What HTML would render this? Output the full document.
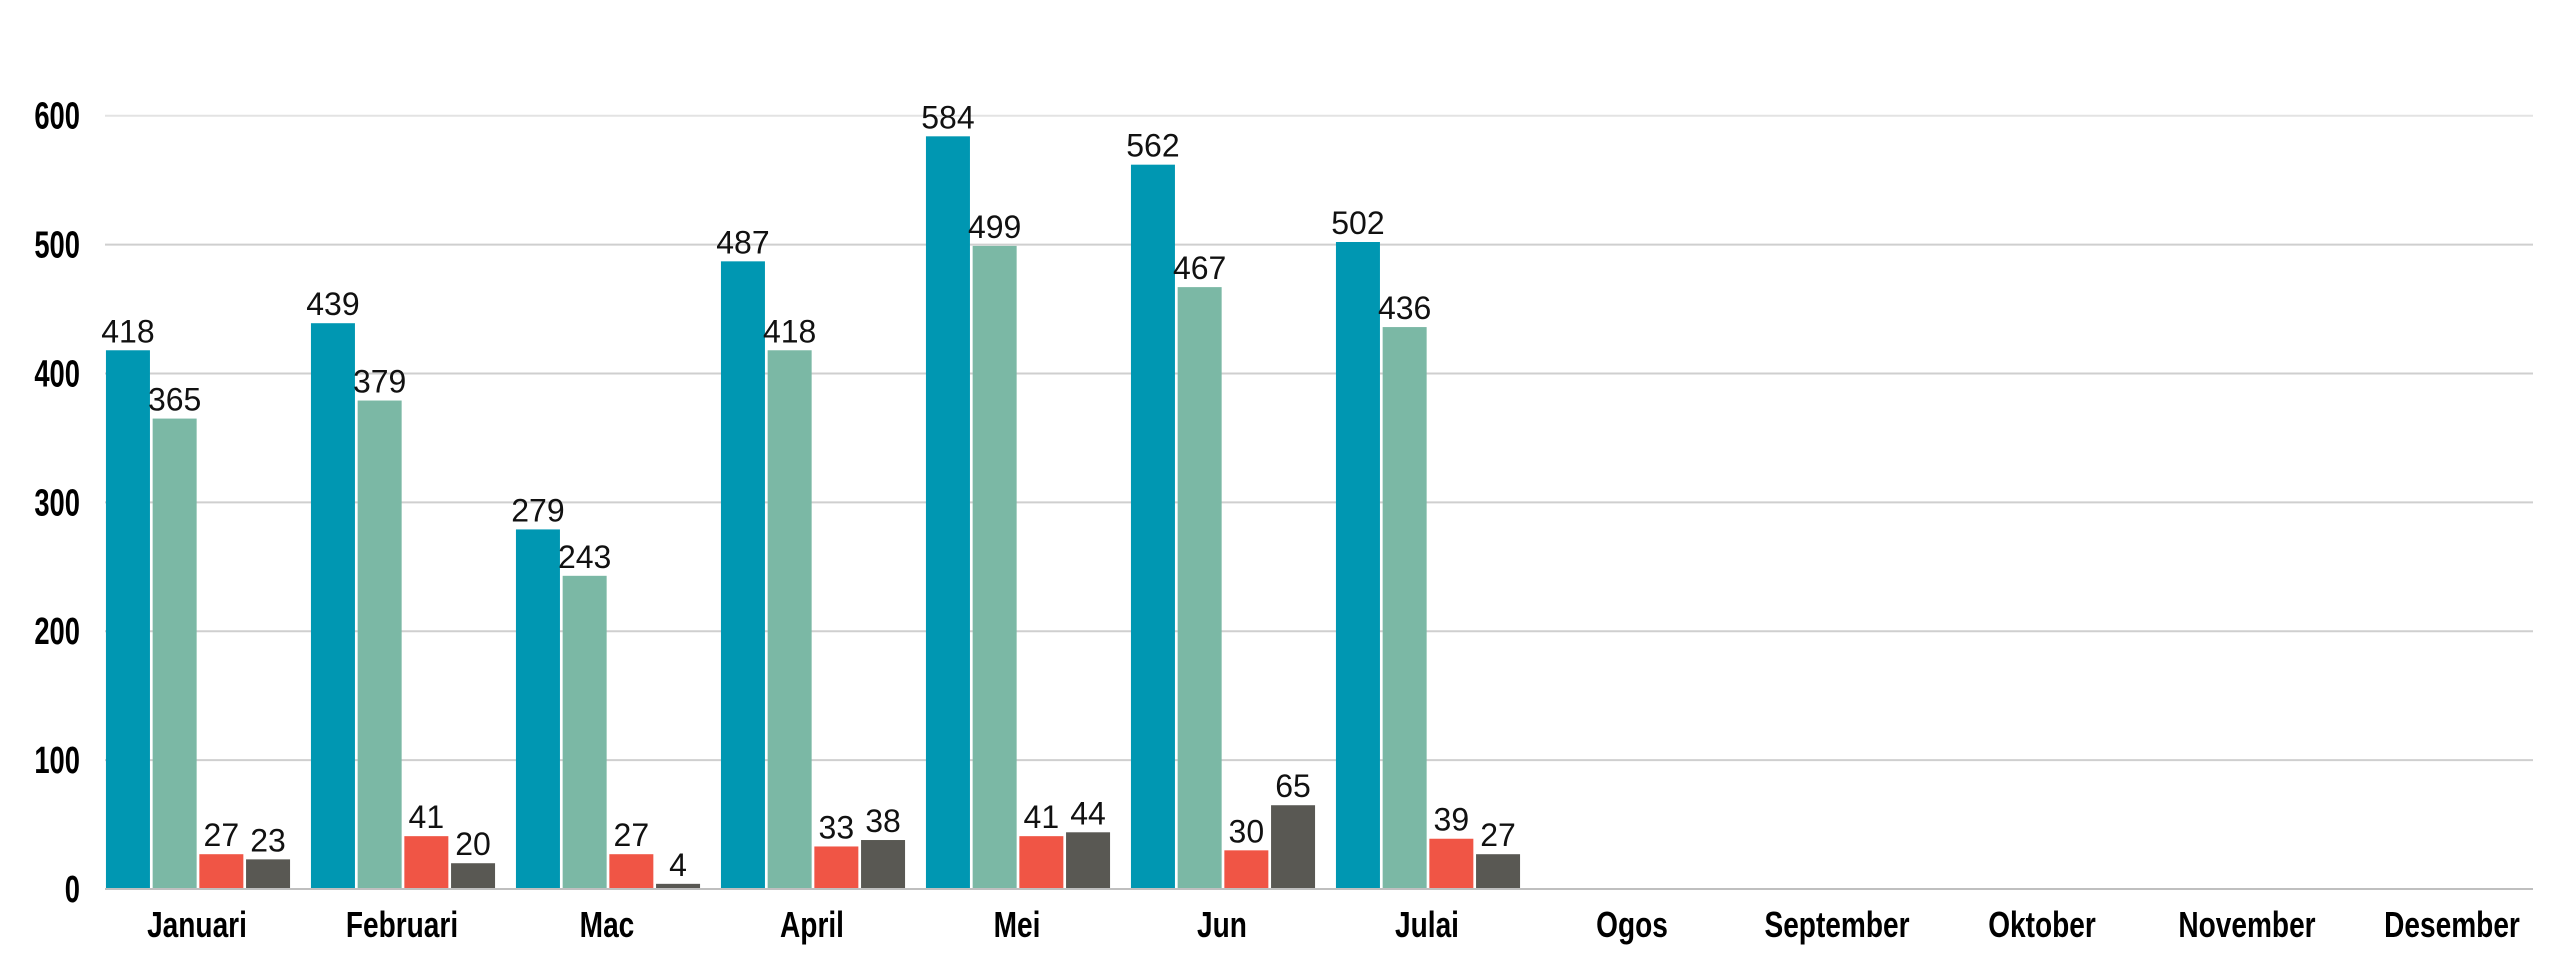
<!DOCTYPE html>
<html><head><meta charset="utf-8"><style>
html,body{margin:0;padding:0;background:#fff;}
svg{display:block;}
.tick{font-family:"Liberation Sans",sans-serif;font-weight:bold;font-size:38px;fill:#000;}
.cat{font-family:"Liberation Sans",sans-serif;font-weight:bold;font-size:36px;fill:#000;}
.val{font-family:"Liberation Sans",sans-serif;font-size:32px;fill:#111;}
</style></head><body>
<svg id="chart" width="2560" height="960" viewBox="0 0 2560 960" xmlns="http://www.w3.org/2000/svg"></svg>
<script>
const categories = ["Januari","Februari","Mac","April","Mei","Jun","Julai","Ogos","September","Oktober","November","Desember"];
const series1 = [418,439,279,487,584,562,502];
const series2 = [365,379,243,418,499,467,436];
const series3 = [27,41,27,33,41,30,39];
const series4 = [23,20,4,38,44,65,27];
const yTicks = [0,100,200,300,400,500,600];
const seriesList = [series1,series2,series3,series4];
const colors = ["#0097b2","#7bb8a5","#f05545","#595853"];
const NS = "http://www.w3.org/2000/svg";
const svg = document.getElementById('chart');
const plotLeft = 105, plotRight = 2533, baseY = 889, topY = 115.7, yMax = 600;
const pitch = 205, firstCenter = 197, barW = 44, barStep = 46.7;
function yScale(v){ return baseY - (v / yMax) * (baseY - topY); }
function xCenter(i){ return firstCenter + i * pitch; }
function mk(tag, attrs){ const e = document.createElementNS(NS, tag); for (const k in attrs) e.setAttribute(k, attrs[k]); svg.appendChild(e); return e; }
yTicks.forEach(t => {
  const y = yScale(t);
  if (t > 0) {
    const g = mk('line', {x1:plotLeft, x2:plotRight, y1:y, y2:y, stroke: t===600 ? '#e3e3e3' : '#cfcfcf', 'stroke-width':2});
    
    
  }
  const tx = mk('text', {x:80, y:y+13, 'text-anchor':'end', class:'tick', transform:`translate(80 0) scale(0.72 1) translate(-80 0)`});
  tx.textContent = t;
  
  
});
categories.forEach((c, i) => {
  const cx = xCenter(i);
  const tx = mk('text', {x:cx, y:937, 'text-anchor':'middle', class:'cat', transform:`translate(${cx} 0) scale(0.78 1) translate(${-cx} 0)`});
  tx.textContent = c;
  
  
});
seriesList.forEach((s, si) => {
  s.forEach((v, i) => {
    const x = xCenter(i) - 2*barStep + (barStep-barW)/2 + si*barStep + 1;
    const y = yScale(v);
    const r = mk('rect', {x:x, y:y, width:barW, height:baseY - y, fill:colors[si]});
    
    
    const t = mk('text', {x:x + barW/2, y:y - 8, 'text-anchor':'middle', class:'val'});
    t.textContent = v;
    
    
  });
});
const ax = mk('line', {x1:plotLeft, x2:plotRight, y1:baseY, y2:baseY, stroke:'#bfbfbf', 'stroke-width':2});


</script>
</body></html>
